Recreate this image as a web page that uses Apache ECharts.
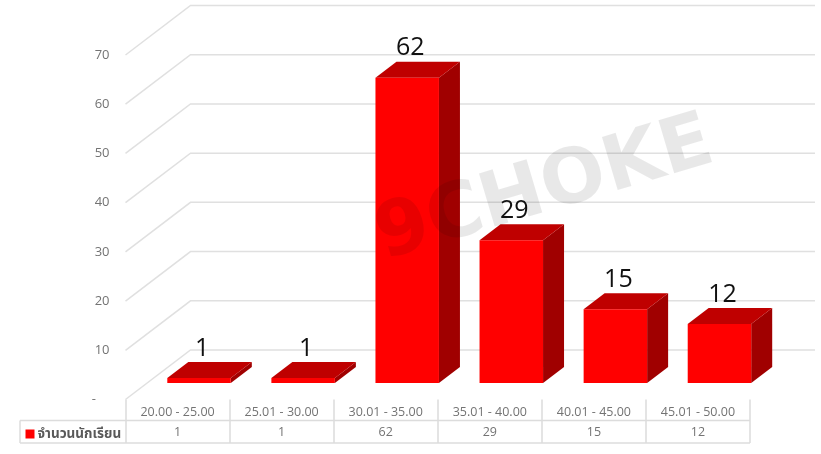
<!DOCTYPE html>
<html><head><meta charset="utf-8">
<style>html,body{margin:0;padding:0;background:#fff}#c{width:821px;height:454px}</style>
<script src="https://cdn.jsdelivr.net/npm/echarts@6/dist/echarts.min.js"></script>
</head><body><div id="c"></div>
<script>
const categories = ['20.00 - 25.00','25.01 - 30.00','30.01 - 35.00','35.01 - 40.00','40.01 - 45.00','45.01 - 50.00'];
const students = [1,1,62,29,15,12];
const yTicks = [0,10,20,30,40,50,60,70];
const seriesName = 'จำนวนนักเรียน';
const FONT = '"Open Sans","Noto Sans","Noto Sans Thai",sans-serif';
const WALL_DX = 65, WALL_DY = 49.5, BAR_DX = 21, BAR_DY = 16, BAR_SHIFT_X = 21.5, BAR_SHIFT_Y = 16.5;
const chart = echarts.init(document.getElementById('c'), null, {renderer:'canvas'});
chart.setOption({
  animation:false,
  backgroundColor:'#fff',
  textStyle:{fontFamily:FONT},
  grid:{left:125.5,right:71,top:55,bottom:54.5},
  legend:{
    left:20.5,top:422,padding:[5,5,5,5],itemWidth:9,itemHeight:9,icon:'rect',itemGap:3,
    data:[seriesName],
    textStyle:{color:'#595959',fontSize:13.5,fontWeight:'bold',fontFamily:FONT,padding:[0,0,0,-2]},
    selectedMode:false
  },
  xAxis:{
    type:'category',data:categories,
    axisLine:{show:false},
    axisTick:{show:true,length:43.5,alignWithLabel:false,lineStyle:{color:'#dcdcdc',width:1.5}},
    axisLabel:{
      margin:3,interval:0,
      formatter:(v,i)=>'{a|'+v+'}\n{b|'+students[i]+'}',
      rich:{
        a:{fontFamily:FONT,fontSize:12.5,color:'#737373',lineHeight:20},
        b:{fontFamily:FONT,fontSize:12.5,color:'#737373',lineHeight:20}
      }
    }
  },
  yAxis:{
    type:'value',min:0,max:70,interval:10,
    axisLine:{show:false},axisTick:{show:false},splitLine:{show:false},
    axisLabel:{margin:16,color:'#737373',fontFamily:FONT,fontSize:13,
      formatter:v=>v===0?'-    ':String(v)}
  },
  series:[
    {
      type:'custom',name:'walls',z:1,silent:true,
      data:yTicks.map(v=>[0,v]),
      encode:{x:0,y:1},
      renderItem(params,api){
        const g=params.coordSys;
        const y=api.coord([0,api.value(1)])[1];
        return {type:'polyline',shape:{points:[[g.x,y],[g.x+WALL_DX,y-WALL_DY],[g.x+g.width+WALL_DX,y-WALL_DY]]},
          style:{stroke:'#e0e0e0',lineWidth:1.5,fill:null}};
      }
    },
    {
      type:'custom',name:seriesName,z:2,
      itemStyle:{color:'#ff0000'},
      data:students.map((v,i)=>[i,v]),
      encode:{x:0,y:1},
      renderItem(params,api){
        const idx=api.value(0),val=api.value(1);
        const top=api.coord([idx,val]),base=api.coord([idx,0]);
        const w=api.size([1,0])[0]*0.61;
        const x0=top[0]+BAR_SHIFT_X-w/2,x1=x0+w;
        const yT=top[1]-BAR_SHIFT_Y,yB=base[1]-BAR_SHIFT_Y;
        const dx=BAR_DX,dy=BAR_DY;
        return {type:'group',children:[
          {type:'polygon',shape:{points:[[x1,yT],[x1+dx,yT-dy],[x1+dx,yB-dy],[x1,yB]]},style:{fill:'#a00000'}},
          {type:'polygon',shape:{points:[[x0,yT],[x0+dx,yT-dy],[x1+dx,yT-dy],[x1,yT]]},style:{fill:'#bf0000'}},
          {type:'rect',shape:{x:x0,y:yT,width:w,height:yB-yT},style:{fill:'#ff0000'}},
          {type:'text',style:{text:String(val),x:(x0+x1)/2+3,y:yT-dy-13.5,align:'center',verticalAlign:'middle',
            font:'25px '+FONT,fill:'#111111'}}
        ]};
      }
    }
  ],
  graphic:[
    {type:'group',silent:true,z:100,children:[
      {type:'line',shape:{x1:20,y1:420.5,x2:750,y2:420.5},style:{stroke:'#dcdcdc',lineWidth:1.5}},
      {type:'line',shape:{x1:20,y1:443,x2:750,y2:443},style:{stroke:'#dcdcdc',lineWidth:1.5}},
      {type:'line',shape:{x1:20,y1:420.5,x2:20,y2:443},style:{stroke:'#dcdcdc',lineWidth:1.5}}
    ]},
    {type:'text',silent:true,z:100,x:545,y:191,rotation:16.5*Math.PI/180,
      style:{text:'9CHOKE',font:'bold 76px "DejaVu Sans"',fill:'rgba(0,0,0,0.09)',align:'center',verticalAlign:'middle'}}
  ]
});
</script></body></html>
